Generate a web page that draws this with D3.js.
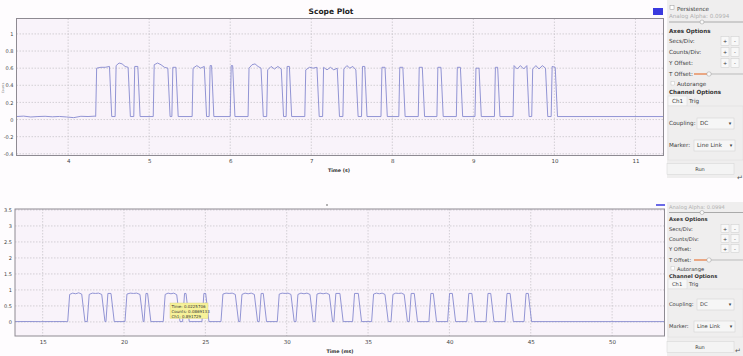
<!DOCTYPE html>
<html><head><meta charset="utf-8">
<script src="https://cdn.jsdelivr.net/npm/d3@7"></script>
<style>
html,body{margin:0;padding:0;background:#fefcfe;}
svg{display:block;font-family:"DejaVu Sans",sans-serif;}
</style></head>
<body><svg id="c" width="743" height="356"></svg>
<script>
// ---------- DATA ----------
const topTicksX = [4,5,6,7,8,9,10,11];
const topTicksY = [-0.4,-0.2,0,0.2,0.4,0.6,0.8,1];
const topTickLabelsY = ["-0.4","-0.2","0","0.2","0.4","0.6","0.8","1"];
const topLow = 0.035;
const topPreBase = [0.035,0.04,0.03,0.035,0.038,0.032,0.036,0.03,0.022,0.038,0.035,0.04];
const topPulseStart = [4.34,4.58,4.81,5.05,5.28,5.53,5.74,6.00,6.22,6.45,6.69,6.92,7.14,7.39,7.62,7.86,8.08,8.32,8.55,8.79,9.02,9.26,9.49,9.72,9.96];
const topPulseEnd   = [4.51,4.74,4.86,5.23,5.33,5.68,5.77,6.03,6.38,6.63,6.73,7.07,7.32,7.55,7.66,7.91,8.13,8.37,8.60,8.84,9.07,9.30,9.66,9.89,10.01];
const topPulseTops = [
  [0.60,0.61,0.61,0.62],[0.63,0.66,0.65,0.62,0.61],[0.62],[0.64,0.66,0.64,0.61,0.60],[0.61],
  [0.60,0.63,0.60,0.62],[0.63],[0.63],[0.60,0.64,0.65,0.62,0.60],[0.58,0.62,0.59,0.62,0.59],
  [0.62],[0.58,0.61,0.60,0.61],[0.61,0.58,0.61,0.58,0.60],[0.59,0.63,0.60,0.62,0.58],[0.62],
  [0.61],[0.61],[0.61],[0.61],[0.61],[0.60],[0.61],[0.63,0.59,0.63,0.59,0.63],[0.59,0.63,0.59,0.63,0.60],[0.62,0.61]
];

const botTicksX = [15,20,25,30,35,40,45,50];
const botTicksY = [0,0.5,1,1.5,2,2.5,3,3.5];
const botTickLabelsY = ["0","0.5","1","1.5","2","2.5","3","3.5"];
const botLow = 0.01;
const botPreBase = [0.01,0.012,0.009,0.011,0.01];
const botPulseStart = [16.54,17.74,18.89,20.06,21.23,22.41,23.60,24.79,25.96,27.13,28.31,29.42,30.57,31.74,32.90,34.05,35.22,36.41,37.53,38.74,39.89,41.07,42.25,43.42,44.59];
const botPulseEnd   = [17.40,18.63,19.20,20.98,21.45,23.24,23.81,25.02,26.84,28.01,28.56,30.26,31.43,32.62,33.27,34.40,36.04,37.22,37.84,39.01,40.18,41.38,42.54,43.73,44.85];
const botPulseTops = [
  [0.86,0.90,0.88,0.91,0.87],[0.86,0.90,0.89,0.90,0.86],[0.89],[0.87,0.90,0.89,0.90,0.86],[0.89],
  [0.86,0.90,0.88,0.90,0.85],[0.89],[0.89],[0.87,0.90,0.89,0.90,0.86],[0.86,0.90,0.88,0.90,0.86],
  [0.89],[0.87,0.90,0.89,0.90,0.86],[0.86,0.90,0.88,0.90,0.86],[0.87,0.90,0.88,0.90,0.86],[0.89],
  [0.89],[0.87,0.90,0.88,0.90,0.86],[0.86,0.90,0.89,0.90,0.86],[0.89],[0.89],[0.89],[0.89],[0.89],[0.89],[0.89]
];
const tooltipLines = ["Time: 0.0225706","Counts: 0.0869133","Ch1: 0.891729"];

// ---------- DRAW ----------
const svg = d3.select("#c");
const lineColor = "#8689cf";

function buildPoints(x0, x1, low, pre, starts, ends, tops, rise, fall){
  const pts = [];
  const preEnd = starts[0] - rise*0.5;
  pre.forEach((v,i)=>pts.push([x0 + (preEnd-x0)*i/(pre.length-1), v]));
  starts.forEach((s,i)=>{
    const e = ends[i], t = tops[i];
    pts.push([s, low]);
    if (t.length===1){ pts.push([s+rise, t[0]]); pts.push([e, t[0]]); }
    else t.forEach((v,j)=>pts.push([s+rise + (e-s-rise)*j/(t.length-1), v]));
    pts.push([e+fall, low]);
  });
  pts.push([x1, low]);
  return pts;
}

function drawPlot(cfg){
  const g = svg.append("g");
  const x = d3.scaleLinear().domain(cfg.xd).range([cfg.l, cfg.r]);
  const y = d3.scaleLinear().domain(cfg.yd).range([cfg.b, cfg.t]);
  g.append("rect").attr("x",cfg.l).attr("y",cfg.t).attr("width",cfg.r-cfg.l).attr("height",cfg.b-cfg.t)
    .attr("fill","#f9f3fa");
  g.append("g").selectAll("line").data(cfg.tx).join("line")
    .attr("x1",d=>x(d)).attr("x2",d=>x(d)).attr("y1",cfg.t).attr("y2",cfg.b)
    .attr("stroke","#c9c6cc").attr("stroke-width",0.8).attr("stroke-dasharray","1.5,1.5");
  g.append("g").selectAll("line").data(cfg.ty).join("line")
    .attr("x1",cfg.l).attr("x2",cfg.r).attr("y1",d=>y(d)).attr("y2",d=>y(d))
    .attr("stroke","#c9c6cc").attr("stroke-width",0.8).attr("stroke-dasharray","1.5,1.5");
  const ax = d3.axisBottom(x).tickValues(cfg.tx).tickSize(0).tickPadding(4).tickFormat(d3.format("d"));
  const axg = g.append("g").attr("transform",`translate(0,${cfg.b})`).call(ax);
  axg.select(".domain").remove();
  axg.selectAll("text").attr("font-size",5.5).attr("fill","#444").attr("font-family","DejaVu Sans");
  const ay = d3.axisLeft(y).tickValues(cfg.ty).tickSize(0).tickPadding(3).tickFormat((d,i)=>cfg.tyl[i]);
  const ayg = g.append("g").attr("transform",`translate(${cfg.l},0)`).call(ay);
  ayg.select(".domain").remove();
  ayg.selectAll("text").attr("font-size",5).attr("fill","#444").attr("font-family","DejaVu Sans");
  const line = d3.line().x(d=>x(d[0])).y(d=>y(d[1]));
  g.append("path").datum(cfg.pts).attr("d",line).attr("fill","none")
    .attr("stroke",lineColor).attr("stroke-width",0.9).attr("stroke-linejoin","round");
  g.append("rect").attr("x",cfg.l).attr("y",cfg.t).attr("width",cfg.r-cfg.l).attr("height",cfg.b-cfg.t)
    .attr("fill","none").attr("stroke","#8e8a92").attr("stroke-width",1);
  return {g,x,y};
}

// top plot
const topPts = buildPoints(3.363, 11.346, topLow, topPreBase, topPulseStart, topPulseEnd, topPulseTops, 0.012, 0.028);
drawPlot({xd:[3.363,11.346], yd:[-0.42,1.18], l:16.5, r:663.5, t:18.5, b:155.5,
  tx:topTicksX, ty:topTicksY, tyl:topTickLabelsY, pts:topPts});
svg.append("text").attr("x",331).attr("y",14).attr("text-anchor","middle").attr("font-size",7.5)
  .attr("font-weight","bold").attr("fill","#222").text("Scope Plot");
svg.append("text").attr("x",339).attr("y",172).attr("text-anchor","middle").attr("font-size",4.8)
  .attr("font-weight","bold").attr("fill","#333").text("Time (s)");
svg.append("text").attr("transform","translate(4,88) rotate(-90)").attr("text-anchor","middle")
  .attr("font-size",3).attr("fill","#666").text("Counts");
svg.append("rect").attr("x",653).attr("y",8).attr("width",10).attr("height",7).attr("fill","#3a3adf");

// bottom plot
const botPts = buildPoints(13.3, 53.22, botLow, botPreBase, botPulseStart, botPulseEnd, botPulseTops, 0.12, 0.2);
drawPlot({xd:[13.3,53.22], yd:[-0.44,3.53], l:15, r:664.5, t:209, b:336,
  tx:botTicksX, ty:botTicksY, tyl:botTickLabelsY, pts:botPts});
svg.append("text").attr("x",340).attr("y",353).attr("text-anchor","middle").attr("font-size",4.8)
  .attr("font-weight","bold").attr("fill","#333").text("Time (ms)");
svg.append("circle").attr("cx",327).attr("cy",205).attr("r",0.7).attr("fill","#333");
svg.append("line").attr("x1",656).attr("x2",665).attr("y1",205).attr("y2",205).attr("stroke","#3a3adf").attr("stroke-width",1.5);

// tooltip
const tt = svg.append("g");
tt.append("rect").attr("x",170).attr("y",303).attr("width",38).attr("height",15.5).attr("fill","#f7f29a").attr("stroke","#d8d27a").attr("stroke-width",0.4);
tt.selectAll("text").data(tooltipLines).join("text").attr("x",171.5).attr("y",(d,i)=>308+i*4.8)
  .attr("font-size",4).attr("fill","#333").text(d=>d);

// ---------- side panels ----------
function panel(L){
  const g = svg.append("g");
  g.append("rect").attr("x",667).attr("y",L.top).attr("width",76).attr("height",L.h).attr("fill","#efeeee");
  const txt = (x,y,t,opt={})=>g.append("text").attr("x",x).attr("y",y).attr("font-size",opt.fs||(L.fs))
    .attr("font-weight",opt.bold?"bold":"normal").attr("fill",opt.fill||"#3a3a3a").attr("text-anchor",opt.anchor||"start").text(t);
  if(L.persist!==null){
    g.append("rect").attr("x",670).attr("y",L.persist-5).attr("width",4).attr("height",4).attr("fill","#fff").attr("stroke","#999").attr("stroke-width",0.5);
    txt(677,L.persist,"Persistence");
  }
  txt(669,L.alpha,"Analog Alpha: 0.0994",{fill:"#b0b0b0"});
  g.append("line").attr("x1",669).attr("x2",743).attr("y1",L.slider).attr("y2",L.slider).attr("stroke","#aaa").attr("stroke-width",1);
  g.append("circle").attr("cx",702).attr("cy",L.slider).attr("r",2).attr("fill","#fafafa").attr("stroke","#999").attr("stroke-width",0.5);
  txt(669,L.axes,"Axes Options",{bold:true,fill:"#333"});
  [["Secs/Div:",L.secs],["Counts/Div:",L.counts],["Y Offset:",L.yoff]].forEach(([t,yy])=>{
    txt(669,yy,t);
    g.append("rect").attr("x",721).attr("y",yy-6.5).attr("width",8).attr("height",L.btn).attr("fill","#f8f8f8").attr("stroke","#ccc").attr("stroke-width",0.5);
    g.append("rect").attr("x",731).attr("y",yy-6.5).attr("width",8).attr("height",L.btn).attr("fill","#f8f8f8").attr("stroke","#ccc").attr("stroke-width",0.5);
    txt(725,yy-0.5,"+",{fs:5,anchor:"middle"});
    txt(735,yy-0.5,"-",{fs:5,anchor:"middle"});
  });
  txt(669,L.toff,"T Offset:");
  g.append("line").attr("x1",708).attr("x2",743).attr("y1",L.toff-2).attr("y2",L.toff-2).attr("stroke","#bbb").attr("stroke-width",1);
  g.append("line").attr("x1",694).attr("x2",708).attr("y1",L.toff-2).attr("y2",L.toff-2).attr("stroke","#e8804a").attr("stroke-width",1.3);
  g.append("circle").attr("cx",709).attr("cy",L.toff-2).attr("r",2.2).attr("fill","#fafafa").attr("stroke","#999").attr("stroke-width",0.5);
  g.append("rect").attr("x",671).attr("y",L.auto-4.5).attr("width",3.5).attr("height",3.5).attr("fill","#fff").attr("stroke","#bbb").attr("stroke-width",0.4);
  txt(677,L.auto,"Autorange");
  txt(669,L.chan,"Channel Options",{bold:true,fill:"#333"});
  g.append("rect").attr("x",668).attr("y",L.tab-7).attr("width",19).attr("height",10).attr("fill","#f7f7f7").attr("stroke","#d0d0d0").attr("stroke-width",0.4);
  txt(672,L.tab,"Ch1");
  txt(689,L.tab,"Trig");
  g.append("rect").attr("x",668).attr("y",L.tab+3).attr("width",75).attr("height",L.box).attr("fill","#efeeee").attr("stroke","#dcdcdc").attr("stroke-width",0.5);
  txt(669,L.coup,"Coupling:");
  g.append("rect").attr("x",697).attr("y",L.coup-7).attr("width",37).attr("height",11).attr("fill","#f6f6f6").attr("stroke","#cfcfcf").attr("stroke-width",0.5);
  txt(700,L.coup,"DC");
  txt(730,L.coup,"▾",{fs:5,anchor:"middle"});
  txt(669,L.mark,"Marker:");
  g.append("rect").attr("x",694).attr("y",L.mark-7).attr("width",41).attr("height",11).attr("fill","#f6f6f6").attr("stroke","#cfcfcf").attr("stroke-width",0.5);
  txt(697,L.mark,"Line Link");
  txt(731,L.mark,"▾",{fs:5,anchor:"middle"});
  g.append("rect").attr("x",667).attr("y",L.run-7.5).attr("width",67).attr("height",11).attr("fill","#f4f4f4").attr("stroke","#d4d4d4").attr("stroke-width",0.5);
  txt(700,L.run,"Run",{anchor:"middle",fs:5});
}
panel({top:0,h:178,fs:5.6,btn:9,persist:10.5,alpha:18,slider:22,axes:33,secs:43,counts:54,yoff:65,toff:76,auto:86,chan:94,tab:103,box:54,coup:125,mark:147,run:171});
panel({top:202,h:154,fs:5.2,btn:8,persist:null,alpha:209,slider:212.5,axes:221,secs:231,counts:241,yoff:251,toff:262,auto:271,chan:278,tab:286,box:48,coup:306,mark:328,run:349});
svg.append("text").attr("x",737).attr("y",180).attr("font-size",7).attr("fill","#555").text("↵");
svg.append("text").attr("x",735).attr("y",353).attr("font-size",7).attr("fill","#555").text("↵");
</script></body></html>
